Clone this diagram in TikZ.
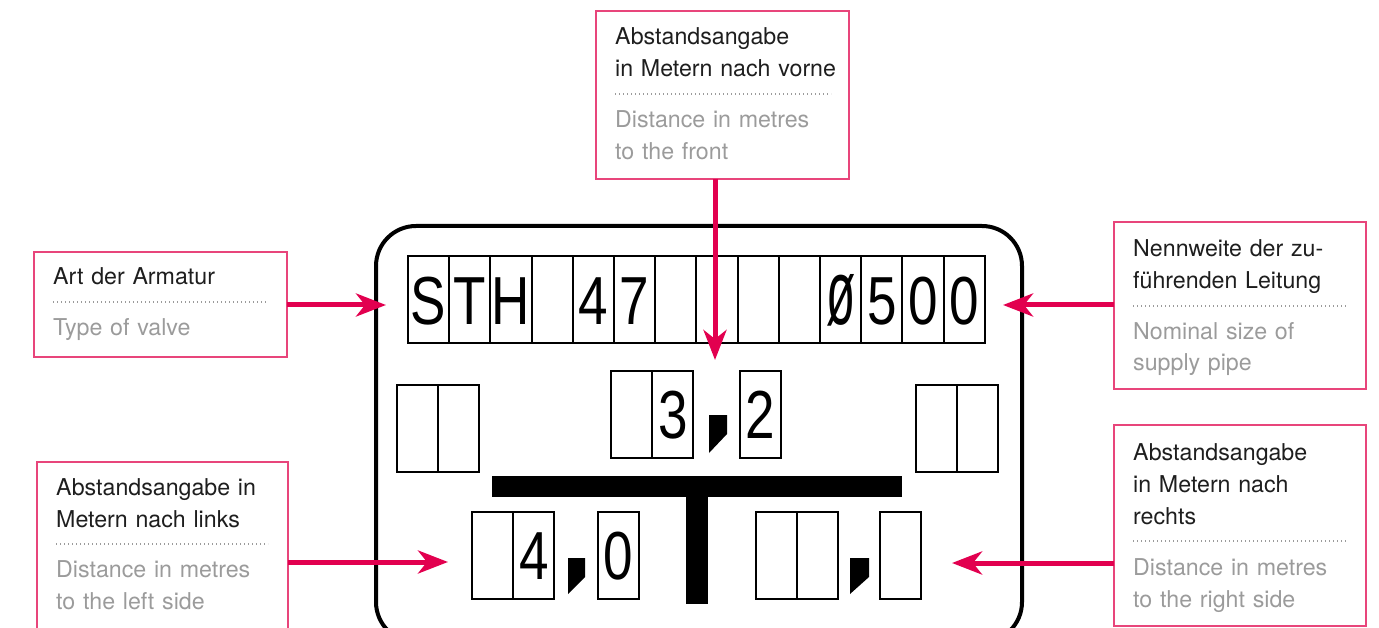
\documentclass[tikz,border=0pt]{standalone}
\usepackage{fontspec}
\usepackage{graphicx}
\setmainfont{TeX Gyre Heros}
\newfontfamily\digitfont[FakeStretch=0.78]{Liberation Sans}
\usetikzlibrary{arrows.meta,positioning}
\definecolor{signal}{HTML}{E2004F}
\definecolor{tagline}{HTML}{E8457B}
\definecolor{engl}{HTML}{9B9B9B}
\definecolor{germ}{HTML}{1E1E1E}

\tikzset{
  cell/.style={draw, line width=2pt, minimum width=41.2pt, minimum height=87pt,
    inner sep=0pt, outer sep=0pt, text height=48pt, text depth=0pt,
    font=\digitfont\fontsize{68}{68}\selectfont},
  tag/.style={draw=tagline, line width=1.5pt, inner sep=0pt, outer sep=0pt, anchor=north west},
  de/.style={anchor=base west, inner sep=0pt, text width=230pt, align=left,
    text=germ, font=\fontsize{23.2}{32}\selectfont},
  en/.style={de, text=engl},
  sepline/.style={draw=engl, line width=1.4pt, dash pattern=on 1.4pt off 2.6pt},
  pointer/.style={draw=signal, line width=5pt, -{Stealth[length=30pt,width=23pt,inset=9pt]}},
}

\begin{document}
\begin{tikzpicture}[x=1pt,y=-1pt]
        \useasboundingbox (0,0) rectangle (1379,628);
        \clip (0,0) rectangle (1379,628);

        % display panel
        \draw[line width=4pt, rounded corners=40pt] (376,226) rectangle (1022,642);

        % top row
        \foreach \c [count=\i] in {S,T,H,{},4,7,{},{},{},{},{\scalebox{0.9}[1.35]{ø}},5,0,0}
          \node[cell] (row\i) at ({428.6+(\i-1)*41.2},300) {\c};

        % middle row
        \node[cell] (lf1) at (417.6,428.5) {};
        \node[cell] (lf2) [right=0pt of lf1] {};
        \node[cell] (fr1) at (631.6,414.5) {};
        \node[cell] (fr2) [right=0pt of fr1] {3};
        \node[cell] (fr3) at (760.6,414.5) {2};
        \node[cell] (rt1) at (936.6,428.5) {};
        \node[cell] (rt2) [right=0pt of rt1] {};

        % bottom row
        \node[cell] (ll1) at (492.6,555.5) {};
        \node[cell] (ll2) [right=0pt of ll1] {4};
        \node[cell] (ll3) at (618.6,555.5) {0};
        \node[cell] (rr1) at (776.6,555.5) {};
        \node[cell] (rr2) [right=0pt of rr1] {};
        \node[cell] (rr3) at (900.6,555.5) {};

        % commas and T
        \fill (709,415) -- (727,415) -- (727,434) -- (709,453) -- cycle;
        \fill (568,558) -- (585,558) -- (585,577) -- (568,594) -- cycle;
        \fill (850,558) -- (869,558) -- (869,577) -- (850,594) -- cycle;
        \fill (492,476) rectangle (902,497);
        \fill (686,476) rectangle (708,604);

        % labels
        \node[tag, minimum width=253pt, minimum height=168pt] (front) at (596,11) {};
        \node[de] (front_de) at (615,45) {Abstandsangabe\\in Metern nach vorne};
        \draw[sepline] (615,94) -- (831,94);
        \node[en] (front_en) at (615,128) {Distance in metres\\to the front};

        \node[tag, minimum width=253pt, minimum height=105pt] (valve) at (34,252) {};
        \node[de] (valve_de) at (53,285) {Art der Armatur};
        \draw[sepline] (53,302) -- (267,302);
        \node[en] (valve_en) at (53,336) {Type of valve};

        \node[tag, minimum width=251pt, minimum height=200pt] (lside) at (37,462) {};
        \node[de] (lside_de) at (56,495) {Abstandsangabe in\\Metern nach links};
        \draw[sepline] (56,544) -- (268,544);
        \node[en] (lside_en) at (56,577) {Distance in metres\\to the left side};

        \node[tag, minimum width=252pt, minimum height=167pt] (size) at (1114,222) {};
        \node[de] (size_de) at (1133,257) {Nennweite der zu-\\führenden Leitung};
        \draw[sepline] (1133,306) -- (1346,306);
        \node[en] (size_en) at (1133,339) {Nominal size of\\supply pipe};

        \node[tag, minimum width=252pt, minimum height=201pt] (rside) at (1114,425) {};
        \node[de] (rside_de) at (1133,460) {Abstandsangabe\\in Metern nach\\rechts};
        \draw[sepline] (1133,541) -- (1346,541);
        \node[en] (rside_en) at (1133,575) {Distance in metres\\to the right side};

        % arrows
        \coordinate (valve_tip) at (386,305);
        \coordinate (size_tip) at (1003,305);
        \coordinate (front_tip) at (715,360);
        \coordinate (lside_tip) at (448,562);
        \coordinate (rside_tip) at (952,563);

        \path
        (valve.east |- valve_tip) edge[pointer] (valve_tip)
        (size.west |- size_tip) edge[pointer] (size_tip)
        (front.south -| front_tip) edge[pointer] (front_tip)
        (lside.east |- lside_tip) edge[pointer] (lside_tip)
        (rside.west |- rside_tip) edge[pointer] (rside_tip)
        ;
      \end{tikzpicture}
\end{document}
